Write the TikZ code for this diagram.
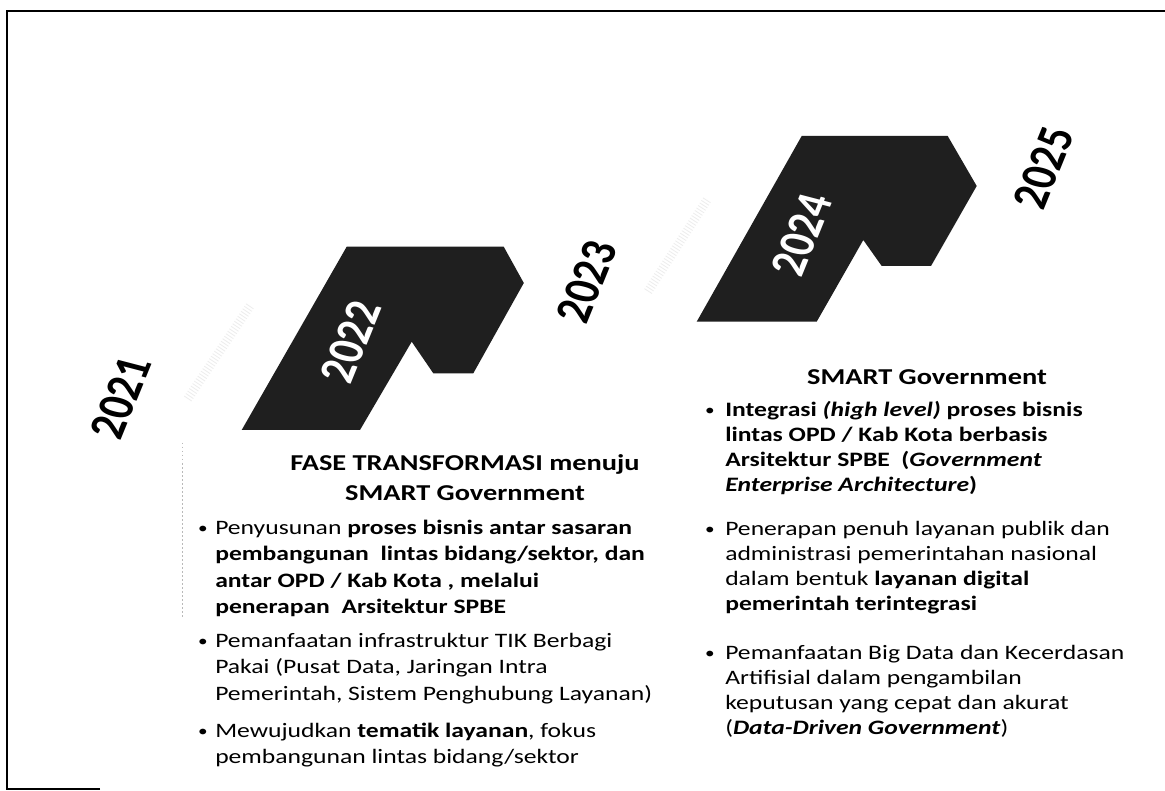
\documentclass[tikz,border=0pt]{standalone}
\usepackage{fontspec}
\setmainfont{Carlito}
\newcommand{\mlines}[2][l]{\begin{tabular}[t]{@{}#1@{}}#2\end{tabular}}
\begin{document}
\begin{tikzpicture}[x=1pt,y=-1pt,
  frameline/.style={line width=1.4pt, black},
  stepshape/.style={fill=black!88, draw=none},
  ghost/.style={gray!14, line width=9pt, dash pattern=on 0.8pt off 2.2pt},
  faintdash/.style={gray!55, line width=0.6pt, dash pattern=on 1.5pt off 2.5pt},
  yearlbl/.style={font=\bfseries\fontsize{41}{41}\selectfont, inner sep=0pt, xscale=1.25, rotate=72},
  headlbl/.style={font=\bfseries\fontsize{22.7}{30}\selectfont, inner sep=0pt, xscale=1.25, anchor=base},
  rheadlbl/.style={font=\bfseries\fontsize{22.7}{30}\selectfont, inner sep=0pt, xscale=1.25, anchor=base},
  lbody/.style={font=\fontsize{20.5}{26.5}\selectfont, inner sep=0pt, xscale=1.25, anchor=base west},
  rbody/.style={font=\fontsize{20.5}{25}\selectfont, inner sep=0pt, xscale=1.25, anchor=base west},
  bul/.style={font=\fontsize{16}{20}\selectfont, inner sep=0pt, xscale=1.2, anchor=base}
]
\useasboundingbox (0,0) rectangle (1165,791);
\fill[white] (0,0) rectangle (1165,791);

% frame
\draw[frameline] (100,789) -- (7,789) -- (7,11) -- (1165,11);

% faint ghost streaks
\draw[ghost] (250,306) -- (187,400);
\draw[ghost] (707,200) -- (647,293);
\draw[faintdash] (182,443) -- (182,617);

% step shapes
\fill[stepshape] (346.7,246.7) -- (503.7,246.7) -- (523.8,283) -- (473.3,373.3)
  -- (433.3,373.3) -- (411.7,341.7) -- (360,430) -- (241.7,430) -- cycle;
\fill[stepshape] (801.7,136) -- (947.7,136) -- (976.7,186) -- (931,266)
  -- (881.7,266) -- (863.3,240) -- (816.7,321.7) -- (696.7,321.7) -- cycle;

% years
\node[yearlbl] (y2021) at (121,398) {2021};
\node[yearlbl, text=white] (y2022) at (351,342) {2022};
\node[yearlbl] (y2023) at (587,282) {2023};
\node[yearlbl, text=white] (y2024) at (802,235) {2024};
\node[yearlbl] (y2025) at (1044,168) {2025};

% left block
\node[headlbl] (lhead) at (465,471) {\mlines[c]{FASE TRANSFORMASI menuju\\SMART Government}};
\node[bul] (lb1d) at (203,533) {•};
\node[lbody] (lb1) at (215,534) {\mlines{Penyusunan \textbf{proses bisnis antar sasaran}\\
  \textbf{pembangunan\ \ lintas bidang/sektor, dan}\\
  \textbf{antar OPD / Kab Kota , melalui}\\
  \textbf{penerapan\ \ Arsitektur SPBE}}};
\node[bul] (lb2d) at (203,646) {•};
\node[lbody] (lb2) at (215,647) {\mlines{Pemanfaatan infrastruktur TIK Berbagi\\
  Pakai (Pusat Data, Jaringan Intra\\
  Pemerintah, Sistem Penghubung Layanan)}};
\node[bul] (lb3d) at (203,736) {•};
\node[lbody] (lb3) at (215,737) {\mlines{Mewujudkan \textbf{tematik layanan}, fokus\\
  pembangunan lintas bidang/sektor}};

% right block
\node[rheadlbl] (rhead) at (927,385) {SMART Government};
\node[bul] (rb1d) at (710,416) {•};
\node[rbody] (rb1) at (725,417) {\mlines{\textbf{Integrasi \textit{(high level)} proses bisnis}\\
  \textbf{lintas OPD / Kab Kota berbasis}\\
  \textbf{Arsitektur SPBE\ \ (\textit{Government}}\\
  \textbf{\textit{Enterprise Architecture})}}};
\node[bul] (rb2d) at (710,534) {•};
\node[rbody] (rb2) at (725,535) {\mlines{Penerapan penuh layanan publik dan\\
  administrasi pemerintahan nasional\\
  dalam bentuk \textbf{layanan digital}\\
  \textbf{pemerintah terintegrasi}}};
\node[bul] (rb3d) at (710,658) {•};
\node[rbody] (rb3) at (725,659) {\mlines{Pemanfaatan Big Data dan Kecerdasan\\
  Artifisial dalam pengambilan\\
  keputusan yang cepat dan akurat\\
  (\textbf{\textit{Data-Driven Government}})}};
\end{tikzpicture}
\end{document}
